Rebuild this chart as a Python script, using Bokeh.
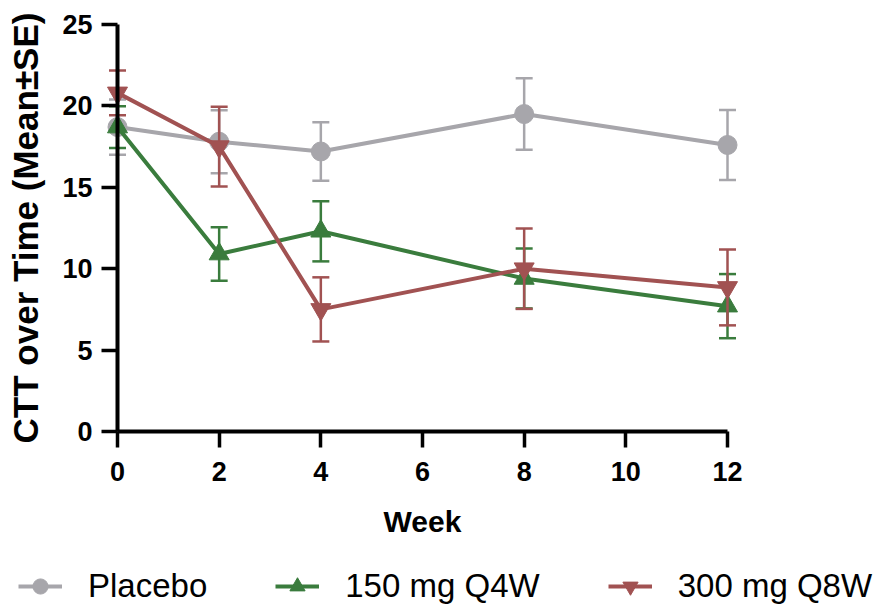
from bokeh.plotting import figure
from bokeh.models import ColumnDataSource, Range1d, FixedTicker, Legend, LegendItem
from bokeh.embed import file_html
from bokeh.resources import INLINE

# ---- data ----
weeks = [0, 2, 4, 8, 12]
placebo_mean = [18.7, 17.8, 17.2, 19.5, 17.6]
placebo_se = [1.70, 1.93, 1.80, 2.20, 2.15]
q4w_mean = [18.7, 10.9, 12.3, 9.4, 7.7]
q4w_se = [1.28, 1.64, 1.85, 1.84, 1.97]
q8w_mean = [20.8, 17.5, 7.5, 10.0, 8.85]
q8w_se = [1.37, 2.45, 1.97, 2.47, 2.33]

series_names = ["Placebo", "150 mg Q4W", "300 mg Q8W"]
x_ticks = [0, 2, 4, 6, 8, 10, 12]
y_ticks = [0, 5, 10, 15, 20, 25]

# ---- layout (canvas pixels) ----
W, H = 884, 605
AX_X0, AX_X1 = 117.0, 727.0   # canvas px of first / last x tick
AX_Y0, AX_Y1 = 431.0, 24.0    # canvas px of first / last y tick

xs = (x_ticks[-1] - x_ticks[0]) / (AX_X1 - AX_X0)
ys = (y_ticks[-1] - y_ticks[0]) / (AX_Y0 - AX_Y1)
x_range = Range1d(x_ticks[0] - AX_X0 * xs, x_ticks[-1] + (W - AX_X1) * xs)
y_range = Range1d(y_ticks[0] - (H - AX_Y0) * ys, y_ticks[-1] + AX_Y1 * ys)

# ---- styles ----
colors = ["#A7A6AB", "#3A7C3D", "#A15252"]
markers = ["circle", "triangle", "inverted_triangle"]
msizes = [19, 20, 20]
FONT = "Liberation Sans"

p = figure(width=W, height=H, output_backend="svg", toolbar_location=None,
           title=None, x_range=x_range, y_range=y_range,
           min_border=0, min_border_left=0, min_border_right=0,
           min_border_top=0, min_border_bottom=0,
           x_axis_label="Week", y_axis_label="CTT over Time (Mean\u00b1SE)")
p.outline_line_color = None
p.grid.visible = False
p.background_fill_color = "white"
p.border_fill_color = "white"

for ax in (p.xaxis[0], p.yaxis[0]):
    ax.fixed_location = 0
    ax.axis_line_width = 4
    ax.axis_line_color = "black"
    ax.major_tick_line_width = 3.5
    ax.major_tick_line_color = "black"
    ax.major_tick_out = 16
    ax.major_tick_in = 0
    ax.minor_tick_line_color = None
    ax.major_label_text_font = FONT
    ax.major_label_text_font_style = "bold"
    ax.major_label_text_color = "black"
    ax.axis_label_text_font = FONT
    ax.axis_label_text_font_style = "bold"
    ax.axis_label_text_color = "black"

p.xaxis.ticker = FixedTicker(ticks=x_ticks)
p.xaxis.bounds = (x_ticks[0], x_ticks[-1])
p.xaxis.major_label_text_font_size = "27px"
p.xaxis.major_label_standoff = 14
p.xaxis.axis_label_text_font_size = "30px"
p.xaxis.axis_label_standoff = 21

p.yaxis.ticker = FixedTicker(ticks=y_ticks)
p.yaxis.bounds = (y_ticks[0], y_ticks[-1])
p.yaxis.major_label_text_font_size = "27px"
p.yaxis.major_label_standoff = 9
p.yaxis.axis_label_text_font_size = "35px"
p.yaxis.axis_label_standoff = 14

means = [placebo_mean, q4w_mean, q8w_mean]
ses = [placebo_se, q4w_se, q8w_se]
items = []
for name, m, s, c, mk, ms in zip(series_names, means, ses, colors, markers, msizes):
    src = ColumnDataSource(dict(
        x=weeks, y=m,
        lower=[a - b for a, b in zip(m, s)],
        upper=[a + b for a, b in zip(m, s)],
    ))
    p.segment(x0="x", y0="lower", x1="x", y1="upper", source=src,
              line_color=c, line_width=2.5)
    p.scatter(x="x", y="upper", source=src, marker="dash", size=17,
              line_color=c, line_width=2.5)
    p.scatter(x="x", y="lower", source=src, marker="dash", size=17,
              line_color=c, line_width=2.5)
    ln = p.line(x="x", y="y", source=src, line_color=c, line_width=4)
    sc = p.scatter(x="x", y="y", source=src, marker=mk, size=ms,
                   fill_color=c, line_color=c)
    items.append(LegendItem(label=name, renderers=[ln, sc]))

legend = Legend(items=items, orientation="horizontal", location=(18, 0),
                padding=0, margin=0, spacing=68, glyph_width=44, glyph_height=38,
                label_height=38, label_standoff=26,
                label_text_font=FONT, label_text_font_size="33px",
                label_text_color="black",
                border_line_color=None, background_fill_alpha=0)
p.add_layout(legend)

open("out.html", "w").write(file_html(p, INLINE))
